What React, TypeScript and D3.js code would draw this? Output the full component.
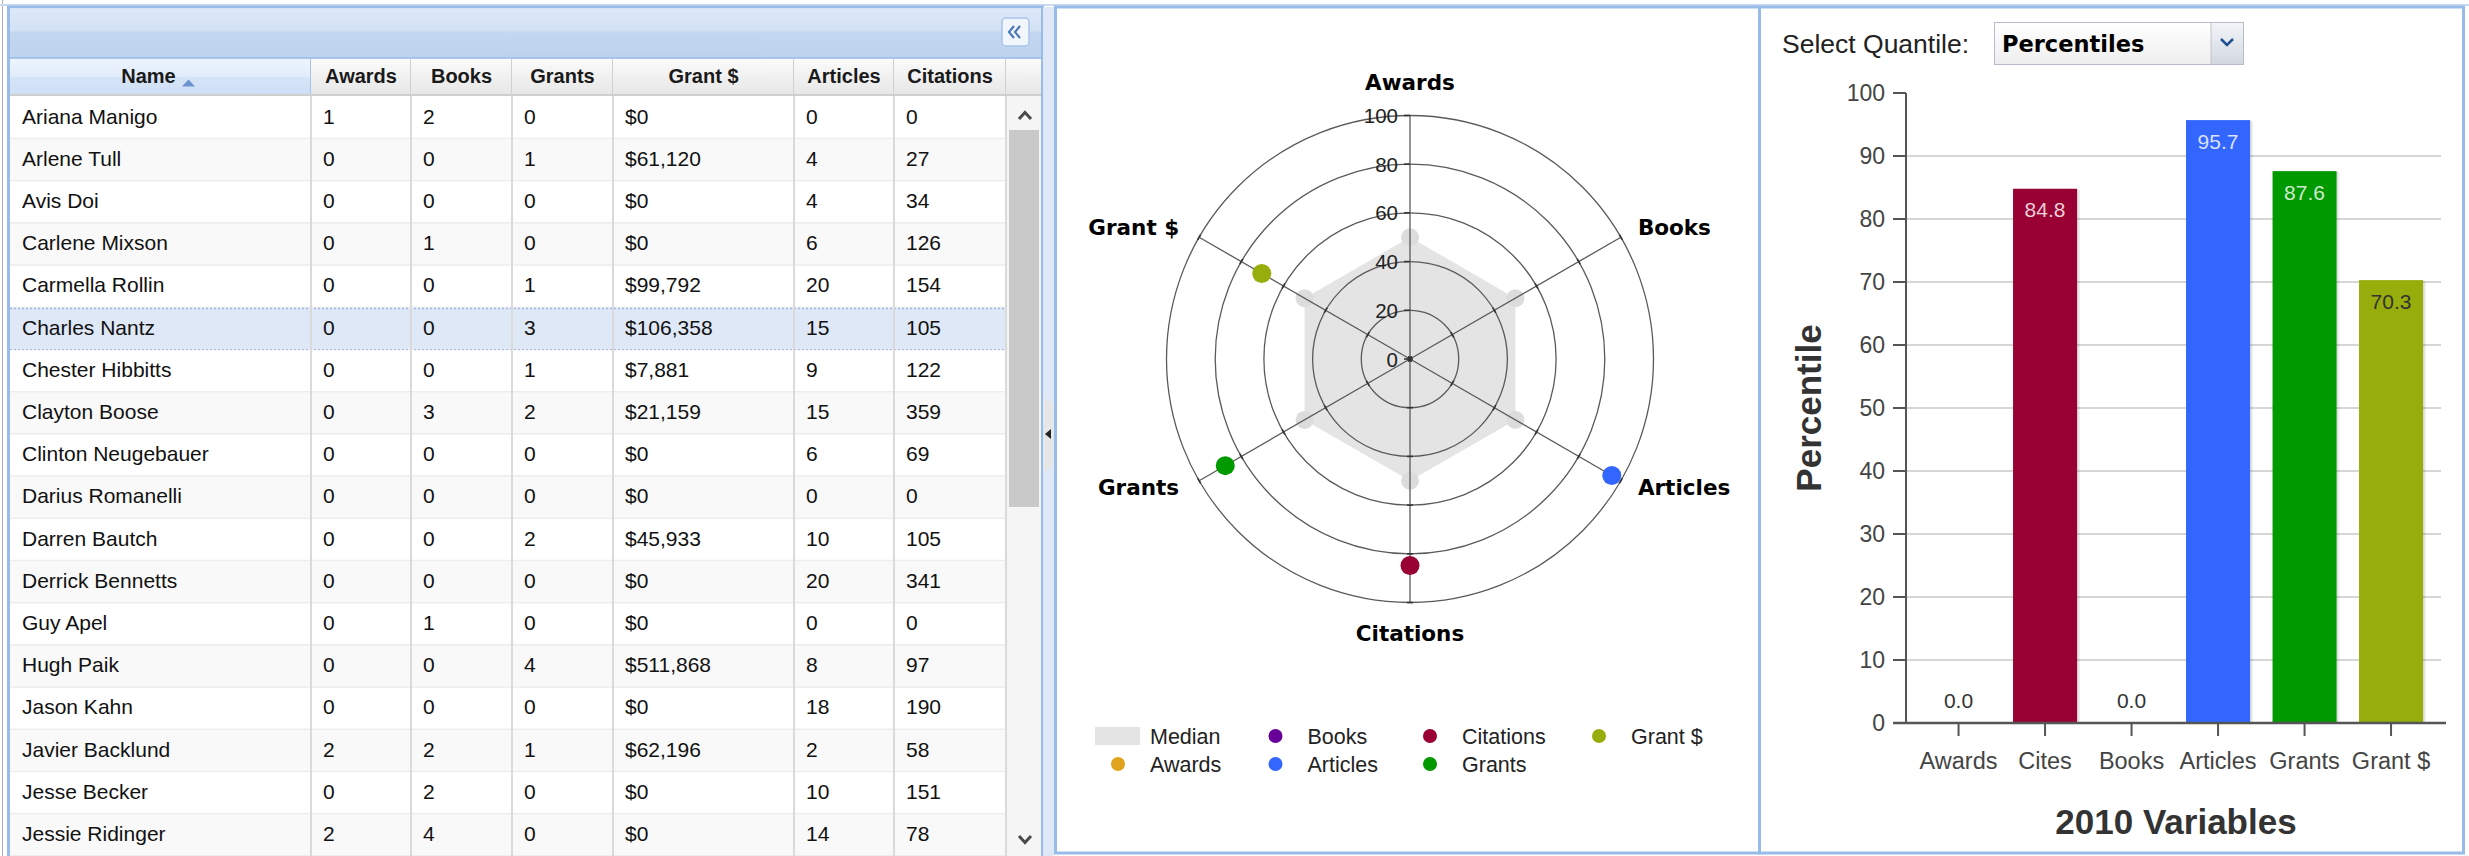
import React from 'react';
import * as d3 from 'd3';

// ---------- DATA ----------
const columnTitles = ['Name', 'Awards', 'Books', 'Grants', 'Grant $', 'Articles', 'Citations'];
const names = ['Ariana Manigo', 'Arlene Tull', 'Avis Doi', 'Carlene Mixson', 'Carmella Rollin', 'Charles Nantz', 'Chester Hibbitts', 'Clayton Boose', 'Clinton Neugebauer', 'Darius Romanelli', 'Darren Bautch', 'Derrick Bennetts', 'Guy Apel', 'Hugh Paik', 'Jason Kahn', 'Javier Backlund', 'Jesse Becker', 'Jessie Ridinger'];
const awards = [1, 0, 0, 0, 0, 0, 0, 0, 0, 0, 0, 0, 0, 0, 0, 2, 0, 2];
const books = [2, 0, 0, 1, 0, 0, 0, 3, 0, 0, 0, 0, 1, 0, 0, 2, 2, 4];
const grants = [0, 1, 0, 0, 1, 3, 1, 2, 0, 0, 2, 0, 0, 4, 0, 1, 0, 0];
const grantDollars = ['$0', '$61,120', '$0', '$0', '$99,792', '$106,358', '$7,881', '$21,159', '$0', '$0', '$45,933', '$0', '$0', '$511,868', '$0', '$62,196', '$0', '$0'];
const articles = [0, 4, 4, 6, 20, 15, 9, 15, 6, 0, 10, 20, 0, 8, 18, 2, 10, 14];
const citations = [0, 27, 34, 126, 154, 105, 122, 359, 69, 0, 105, 341, 0, 97, 190, 58, 151, 78];
const selectedName = 'Charles Nantz';

const radarAxes = ['Awards', 'Books', 'Articles', 'Citations', 'Grants', 'Grant $'];
const radarValues = [0, 0, 95.7, 84.8, 87.6, 70.3];
const medianValues = [50, 50, 50, 50, 50, 50];
const radarTicks = [0, 20, 40, 60, 80, 100];

const legendItems = ['Median', 'Awards', 'Books', 'Articles', 'Citations', 'Grants', 'Grant $'];

const barCategories = ['Awards', 'Cites', 'Books', 'Articles', 'Grants', 'Grant $'];
const barValues = [0.0, 84.8, 0.0, 95.7, 87.6, 70.3];
const barTicks = [0, 10, 20, 30, 40, 50, 60, 70, 80, 90, 100];

const colors: Record<string, string> = {
  Awards: '#e1a21d',
  Books: '#660099',
  Articles: '#3366ff',
  Citations: '#990033',
  Cites: '#990033',
  Grants: '#009900',
  'Grant $': '#97ad0b',
  Median: '#e4e4e4',
};

const SANS = '"Liberation Sans", Arial, sans-serif';
const VERD = '"DejaVu Sans", Verdana, sans-serif';

export default function App() {
  React.useEffect(() => {
    document.body.style.margin = '0';
  }, []);

  // ---------- TABLE LAYOUT ----------
  const colEdges = [10, 311, 411, 512, 613, 794, 894, 1006];
  const headerTop = 59;
  const headerBottom = 94;
  const rowTop = 97;
  const rowH = 42.2;
  const rowsData = names.map((n, i) => [n, String(awards[i]), String(books[i]), String(grants[i]), grantDollars[i], String(articles[i]), String(citations[i])]);

  // ---------- RADAR ----------
  const cx = 1410;
  const cy = 359;
  const rScale = d3.scaleLinear().domain([0, 100]).range([0, 243.5]);
  const angle = (i: number) => (i * 2 * Math.PI) / radarAxes.length;
  const polar = (i: number, r: number) => [cx + r * Math.sin(angle(i)), cy - r * Math.cos(angle(i))];
  const medianPath = d3
    .lineRadial<number>()
    .angle((_, i) => angle(i))
    .radius((v) => rScale(v))
    .curve(d3.curveLinearClosed)(medianValues) as string;

  // ---------- BAR ----------
  const yBar = d3.scaleLinear().domain([0, 100]).range([723, 93]);
  const xBar = d3.scaleBand().domain(barCategories).range([1915.3, 2434.3]).paddingInner(0.26).paddingOuter(0.13);
  const bw = xBar.bandwidth();

  return (
    <div style={{ position: 'fixed', left: 0, top: 0, width: 2469, height: 856, overflow: 'hidden', background: '#fff' }}>
      <svg width={2469} height={856} style={{ display: 'block' }}>
        <defs>
          <linearGradient id="panelHdr" x1="0" y1="0" x2="0" y2="1">
            <stop offset="0" stopColor="#dde9f8" />
            <stop offset="0.45" stopColor="#d2e1f5" />
            <stop offset="0.47" stopColor="#c4d7f0" />
            <stop offset="1" stopColor="#bdd2ee" />
          </linearGradient>
          <linearGradient id="colHdr" x1="0" y1="0" x2="0" y2="1">
            <stop offset="0" stopColor="#fbfbfb" />
            <stop offset="1" stopColor="#e7e7e7" />
          </linearGradient>
          <linearGradient id="colHdrSel" x1="0" y1="0" x2="0" y2="1">
            <stop offset="0" stopColor="#edf4fd" />
            <stop offset="0.5" stopColor="#e2ecfa" />
            <stop offset="0.52" stopColor="#d6e4f7" />
            <stop offset="1" stopColor="#cfdff5" />
          </linearGradient>
          <linearGradient id="combo" x1="0" y1="0" x2="0" y2="1">
            <stop offset="0" stopColor="#ffffff" />
            <stop offset="1" stopColor="#eeeeee" />
          </linearGradient>
          <linearGradient id="comboBtn" x1="0" y1="0" x2="0" y2="1">
            <stop offset="0" stopColor="#f2f4f8" />
            <stop offset="1" stopColor="#d3d8e0" />
          </linearGradient>
        </defs>

        {/* outer gray line */}
        <line x1={2.5} y1={0} x2={2.5} y2={856} stroke="#b0b0b0" strokeWidth={1} />
        <line x1={0} y1={5} x2={2469} y2={5} stroke="#c9daf0" strokeWidth={2} />

        {/* ================= LEFT PANEL (GRID) ================= */}
        <rect x={8.5} y={7} width={1034} height={860} fill="#fff" stroke="#99bbe8" strokeWidth={3} />
        <rect x={10} y={8.5} width={1031} height={50} fill="url(#panelHdr)" />
        <line x1={10} y1={58} x2={1041} y2={58} stroke="#99bbe8" strokeWidth={1.5} />
        {/* collapse button */}
        <rect x={1002} y={18} width={27} height={28} rx={4} fill="#f1f6fd" stroke="#a9c4e9" strokeWidth={1.5} />
        <path d="M1014,26 L1009,32 L1014,38 M1020,26 L1015,32 L1020,38" fill="none" stroke="#4b79b9" strokeWidth={2.2} />

        {/* column headers */}
        {columnTitles.map((t, i) => {
          const x0 = colEdges[i];
          const x1 = colEdges[i + 1];
          return (
            <g key={'h' + t}>
              <rect x={x0} y={headerTop} width={x1 - x0} height={headerBottom - headerTop} fill={i === 0 ? 'url(#colHdrSel)' : 'url(#colHdr)'} />
              <line x1={x1} y1={headerTop} x2={x1} y2={headerBottom} stroke={i === 0 ? '#a7c3eb' : '#d0d0d0'} strokeWidth={2} />
              <text
                x={(x0 + x1) / 2 - (i === 0 ? 12 : 0)}
                y={(headerTop + headerBottom) / 2 - 1}
                textAnchor="middle"
                dominantBaseline="central"
                fontFamily={SANS}
                fontWeight="bold"
                fontSize={20}
                fill="#1a1a1a"
              >
                {t}
              </text>
            </g>
          );
        })}
        {/* sort arrow */}
        <path d="M182,86.5 L188.5,79.5 L195,86.5 Z" fill="#6a93d0" />
        {/* scrollbar header cell */}
        <rect x={1006} y={headerTop} width={35} height={headerBottom - headerTop} fill="url(#colHdr)" />
        <line x1={10} y1={headerBottom + 1} x2={1041} y2={headerBottom + 1} stroke="#cfcfcf" strokeWidth={2} />

        {/* rows */}
        {rowsData.map((cells, r) => {
          const y0 = rowTop + r * rowH;
          const sel = names[r] === selectedName;
          return (
            <g key={'r' + r}>
              <rect x={10} y={y0} width={996} height={rowH} fill={sel ? '#dfe8f6' : r % 2 === 1 ? '#f9f9f9' : '#ffffff'} />
              <line x1={10} y1={y0 + rowH - 0.5} x2={1006} y2={y0 + rowH - 0.5} stroke="#ededed" strokeWidth={2} />
              {sel && (
                <g>
                  <line x1={10} y1={y0 + 0.5} x2={1006} y2={y0 + 0.5} stroke="#9fb6e6" strokeWidth={1.5} strokeDasharray="2,2" />
                  <line x1={10} y1={y0 + rowH - 0.5} x2={1006} y2={y0 + rowH - 0.5} stroke="#9fb6e6" strokeWidth={1.5} strokeDasharray="2,2" />
                </g>
              )}
              {cells.map((c, ci) => (
                <text
                  key={ci}
                  x={colEdges[ci] + 12}
                  y={y0 + rowH / 2 - 2}
                  dominantBaseline="central"
                  fontFamily={SANS}
                  fontSize={21}
                  fill="#111"
                >
                  {c}
                </text>
              ))}
            </g>
          );
        })}
        {/* column separators in body */}
        {colEdges.slice(1).map((x, i) => (
          <line key={'cs' + i} x1={x} y1={headerBottom + 2} x2={x} y2={856} stroke="#dadada" strokeWidth={2} />
        ))}
        {/* scrollbar */}
        <rect x={1007} y={headerBottom + 2} width={34} height={760} fill="#f5f5f5" />
        <rect x={1009} y={130} width={30} height={377} fill="#c9c9c9" />
        <path d="M1019,119 L1025,112.5 L1031,119" fill="none" stroke="#4a4a4a" strokeWidth={3} />
        <path d="M1019,836 L1025,842.5 L1031,836" fill="none" stroke="#4a4a4a" strokeWidth={3} />

        {/* splitter */}
        <rect x={1043} y={7} width={11} height={849} fill="#dfe8f6" />
        <path d="M1044,398 L1053,404 L1053,466 L1044,472 Z" fill="#e6e6e6" />
        <path d="M1045,434 L1051,429 L1051,439 Z" fill="#222" />

        {/* ================= MIDDLE PANEL (RADAR) ================= */}
        <rect x={1055.5} y={7} width={704} height={846} fill="#fff" stroke="#99bbe8" strokeWidth={3} />

        {/* median polygon */}
        <path d={medianPath} transform={`translate(${cx},${cy})`} fill={colors.Median} />
        {medianValues.map((v, i) => {
          const [x, y] = polar(i, rScale(v));
          return <circle key={'mv' + i} cx={x} cy={y} r={9} fill="#dcdcdc" />;
        })}

        {/* rings */}
        {radarTicks.slice(1).map((t) => (
          <circle key={'ring' + t} cx={cx} cy={cy} r={rScale(t)} fill="none" stroke="#5a5a5a" strokeWidth={1.3} />
        ))}
        {/* spokes */}
        {radarAxes.map((a, i) => {
          const [x, y] = polar(i, rScale(100));
          return <line key={'sp' + a} x1={cx} y1={cy} x2={x} y2={y} stroke="#5a5a5a" strokeWidth={1.3} />;
        })}
        {/* spoke ticks */}
        {radarAxes.map((a, i) =>
          radarTicks.map((t) => {
            const r = rScale(t);
            const ang = angle(i);
            const [x, y] = polar(i, r);
            const px = -Math.cos(ang);
            const py = -Math.sin(ang);
            const l0 = i === 0 ? 0 : -3;
            const l1 = i === 0 ? 6 : 3;
            return (
              <line
                key={'tk' + a + t}
                x1={x + px * l0}
                y1={y + py * l0}
                x2={x + px * l1}
                y2={y + py * l1}
                stroke="#333"
                strokeWidth={1.6}
              />
            );
          })
        )}
        {/* tick labels */}
        {radarTicks.map((t) => (
          <text
            key={'tl' + t}
            x={cx - 12}
            y={cy - rScale(t)}
            textAnchor="end"
            dominantBaseline="central"
            fontFamily={SANS}
            fontSize={20.5}
            fill="#222"
          >
            {t}
          </text>
        ))}
        {/* axis labels */}
        {radarAxes.map((a, i) => {
          const [x, y] = polar(i, rScale(100));
          let tx = x;
          let ty = y;
          let anchor = 'middle';
          const s = Math.sin(angle(i));
          const c = Math.cos(angle(i));
          if (Math.abs(s) < 0.01) {
            ty = c > 0 ? y - 33 : y + 31;
          } else {
            anchor = s > 0 ? 'start' : 'end';
            tx = x + (s > 0 ? 17 : -20);
            ty = c > 0 ? y - 10 : y + 7;
          }
          return (
            <text
              key={'al' + a}
              x={tx}
              y={ty}
              textAnchor={anchor}
              dominantBaseline="central"
              fontFamily={VERD}
              fontWeight="bold"
              fontSize={21.5}
              fill="#000"
            >
              {a}
            </text>
          );
        })}
        {/* value points */}
        {radarAxes.map((a, i) => {
          const v = radarValues[i];
          if (v <= 0) return null;
          const [x, y] = polar(i, rScale(v));
          return <circle key={'pt' + a} cx={x} cy={y} r={9.5} fill={colors[a]} />;
        })}

        {/* legend */}
        {legendItems.map((item, k) => {
          const col = Math.floor(k / 2);
          const row = k % 2;
          const colX = [1118, 1275.5, 1430, 1599][col];
          const y = [736, 764][row];
          return (
            <g key={'lg' + item}>
              {item === 'Median' ? (
                <rect x={colX - 23} y={y - 9} width={45} height={18} fill={colors.Median} />
              ) : (
                <circle cx={colX} cy={y} r={7} fill={colors[item]} />
              )}
              <text x={colX + 32} y={y + 1} dominantBaseline="central" fontFamily={SANS} fontSize={21.5} fill="#222">
                {item}
              </text>
            </g>
          );
        })}

        {/* ================= RIGHT PANEL (BAR) ================= */}
        <rect x={1759.5} y={7} width={704} height={846} fill="#fff" stroke="#99bbe8" strokeWidth={3} />

        <text x={1782} y={44} dominantBaseline="central" fontFamily={SANS} fontSize={26.5} fill="#222">
          Select Quantile:
        </text>
        <rect x={1994.5} y={22.5} width={249} height={42} fill="url(#combo)" stroke="#b8bcc8" strokeWidth={1} />
        <rect x={2211} y={23} width={32} height={41} fill="url(#comboBtn)" />
        <line x1={2211} y1={23} x2={2211} y2={64} stroke="#c0c4cc" strokeWidth={1} />
        <path d="M2221,39 L2227,45 L2233,39" fill="none" stroke="#1f4f8f" strokeWidth={2.5} />
        <text x={2002} y={44} dominantBaseline="central" fontFamily={VERD} fontWeight="bold" fontSize={22.5} fill="#000">
          Percentiles
        </text>

        {/* gridlines */}
        {barTicks
          .filter((t) => t > 0 && t < 100)
          .map((t) => (
            <line key={'g' + t} x1={1906} y1={yBar(t)} x2={2441} y2={yBar(t)} stroke="#d6d6d6" strokeWidth={2} />
          ))}
        {/* y axis */}
        <line x1={1906} y1={yBar(100)} x2={1906} y2={yBar(0)} stroke="#555" strokeWidth={2} />
        {barTicks.map((t) => (
          <g key={'yt' + t}>
            <line x1={1893} y1={yBar(t)} x2={1906} y2={yBar(t)} stroke="#555" strokeWidth={2} />
            <text x={1885} y={yBar(t)} textAnchor="end" dominantBaseline="central" fontFamily={SANS} fontSize={23} fill="#444">
              {t}
            </text>
          </g>
        ))}

        {/* bars */}
        {barCategories.map((c, i) => {
          const v = barValues[i];
          const x = xBar(c) as number;
          const y = yBar(v);
          const h = yBar(0) - y;
          return (
            <g key={'b' + c}>
              {v > 0 && (
                <g>
                  <rect x={x + 3} y={y + 1} width={bw} height={h - 1} fill="#000" opacity={0.06} />
                  <rect x={x + 1.5} y={y + 0.5} width={bw} height={h - 0.5} fill="#000" opacity={0.08} />
                  <rect x={x} y={y} width={bw} height={h} fill={colors[c]} />
                </g>
              )}
              <text
                x={x + bw / 2}
                y={v > 0 ? y + 21 : yBar(0) - 23}
                textAnchor="middle"
                dominantBaseline="central"
                fontFamily={SANS}
                fontSize={21}
                fill={v === 0 ? '#333' : c === 'Grant $' ? '#333' : 'rgba(255,255,255,0.82)'}
              >
                {v.toFixed(1)}
              </text>
            </g>
          );
        })}

        {/* x axis */}
        <line x1={1893} y1={yBar(0)} x2={2446} y2={yBar(0)} stroke="#555" strokeWidth={2.5} />
        {barCategories.map((c) => {
          const x = (xBar(c) as number) + bw / 2;
          return (
            <g key={'xt' + c}>
              <line x1={x} y1={yBar(0)} x2={x} y2={yBar(0) + 13} stroke="#555" strokeWidth={2} />
              <text x={x} y={yBar(0) + 38} textAnchor="middle" dominantBaseline="central" fontFamily={SANS} fontSize={23.5} fill="#444">
                {c}
              </text>
            </g>
          );
        })}

        {/* axis titles */}
        <text x={2176} y={821} textAnchor="middle" dominantBaseline="central" fontFamily={SANS} fontWeight="bold" fontSize={35} fill="#333">
          2010 Variables
        </text>
        <text
          transform={`translate(1808,${(yBar(0) + yBar(100)) / 2}) rotate(-90)`}
          textAnchor="middle"
          dominantBaseline="central"
          fontFamily={SANS}
          fontWeight="bold"
          fontSize={35}
          fill="#333"
        >
          Percentile
        </text>
      </svg>
    </div>
  );
}
